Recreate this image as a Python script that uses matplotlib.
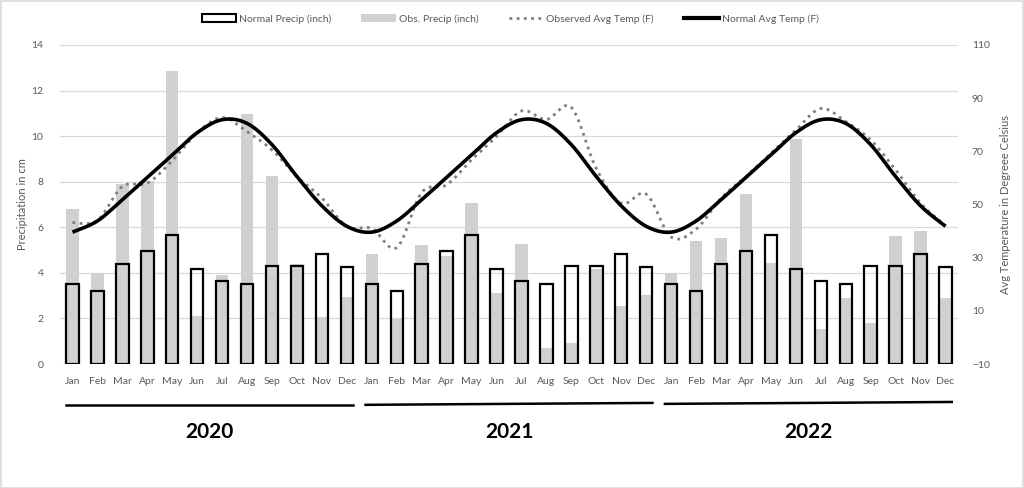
import matplotlib
matplotlib.use("Agg")
import matplotlib.pyplot as plt
import numpy as np
from matplotlib.patches import Patch, Rectangle
from matplotlib.lines import Line2D
import matplotlib.transforms as mtransforms

plt.rcParams['font.family'] = ['Lato', 'DejaVu Sans']

months = ['Jan', 'Feb', 'Mar', 'Apr', 'May', 'Jun',
          'Jul', 'Aug', 'Sep', 'Oct', 'Nov', 'Dec']
years = ['2020', '2021', '2022']

# monthly normal precip (same every year)
normal_precip = [3.52, 3.21, 4.40, 4.98, 5.66, 4.18,
                 3.64, 3.52, 4.28, 4.28, 4.82, 4.25]
obs_precip_2020 = [6.80, 3.99, 7.89, 8.01, 12.87, 2.12,
                   3.89, 10.99, 8.26, 4.38, 2.06, 2.95]
obs_precip_2021 = [4.84, 1.96, 5.23, 4.72, 7.06, 3.11,
                   5.26, 0.70, 0.92, 4.16, 2.56, 3.04]
obs_precip_2022 = [3.99, 5.42, 5.51, 7.47, 4.44, 9.86,
                   1.55, 2.91, 1.78, 5.60, 5.83, 2.88]

# monthly normal temp (same every year)
normal_temp = [39.6, 43.8, 51.8, 60.2, 68.6, 77.0,
               81.9, 80.5, 72.5, 60.5, 49.5, 41.8]
obs_temp_2020 = [43.2, 44.0, 56.8, 58.0, 66.5, 77.0,
                 82.7, 77.4, 70.5, 60.5, 52.4, 41.7]
obs_temp_2021 = [41.0, 33.8, 54.5, 57.4, 66.8, 75.6,
                 85.2, 82.0, 86.5, 63.5, 50.5, 53.9]
obs_temp_2022 = [37.8, 40.7, 52.4, 60.5, 69.3, 78.0,
                 86.1, 81.2, 74.3, 63.0, 50.5, 42.0]

obs_precip = obs_precip_2020 + obs_precip_2021 + obs_precip_2022
obs_temp = obs_temp_2020 + obs_temp_2021 + obs_temp_2022
norm_precip_all = normal_precip * 3
norm_temp_all = normal_temp * 3
labels = months * 3
x = np.arange(len(labels))


def smooth(xs, ys, n=20):
    # excel-style smoothed line (bezier through the points)
    xs = np.asarray(xs, float)
    ys = np.asarray(ys, float)
    px, py = [], []
    for i in range(len(xs) - 1):
        p0 = max(i - 1, 0)
        p3 = min(i + 2, len(xs) - 1)
        c1x = xs[i] + (xs[i + 1] - xs[p0]) / 6
        c1y = ys[i] + (ys[i + 1] - ys[p0]) / 6
        c2x = xs[i + 1] - (xs[p3] - xs[i]) / 6
        c2y = ys[i + 1] - (ys[p3] - ys[i]) / 6
        t = np.linspace(0, 1, n)
        bx = ((1 - t) ** 3 * xs[i] + 3 * (1 - t) ** 2 * t * c1x
              + 3 * (1 - t) * t ** 2 * c2x + t ** 3 * xs[i + 1])
        by = ((1 - t) ** 3 * ys[i] + 3 * (1 - t) ** 2 * t * c1y
              + 3 * (1 - t) * t ** 2 * c2y + t ** 3 * ys[i + 1])
        px.extend(bx)
        py.extend(by)
    return np.array(px), np.array(py)


txt = '#595959'
grey_bar = '#D0D0D0'

fig = plt.figure(figsize=(10.24, 4.88), dpi=100)
ax = fig.add_axes([60 / 1024, 124 / 488, 898 / 1024, 319 / 488])
ax2 = ax.twinx()

ax.bar(x, obs_precip, width=0.5, color=grey_bar, zorder=2)
ax.bar(x, norm_precip_all, width=0.5, facecolor='none',
       edgecolor='black', linewidth=1.6, zorder=3)

ax.set_xlim(-0.5, len(x) - 0.5)
ax.set_ylim(0, 14)
ax.set_yticks(np.arange(0, 15, 2))
ax.grid(axis='y', color='#D9D9D9', linewidth=0.9, zorder=0)
ax.set_axisbelow(True)
ax.set_xticks(x)
ax.set_xticklabels(labels)
ax.tick_params(axis='x', length=0, pad=9, labelsize=7.5, labelcolor=txt)
ax.tick_params(axis='y', length=0, pad=12, labelsize=7.5, labelcolor=txt)
ax.set_ylabel('Precipitation in cm', fontsize=8, color=txt)
ax.yaxis.set_label_coords(-0.036, 0.5)

sx, sy = smooth(x, obs_temp)
ax2.plot(sx, sy, color='#7F7F7F', linewidth=2.0, linestyle=(0, (1, 1.6)),
         zorder=4)
sx, sy = smooth(x, norm_temp_all)
ax2.plot(sx, sy, color='black', linewidth=2.6, zorder=5,
         solid_capstyle='butt')
ax2.set_ylim(-10, 110)
ax2.set_yticks(np.arange(-10, 111, 20))
ax2.tick_params(axis='y', length=0, pad=10, labelsize=7.5, labelcolor=txt)
ax2.set_ylabel('Avg Temperature in Degreee Celsius', fontsize=8,
               color=txt)
ax2.yaxis.set_label_coords(1.047, 0.5)

for a in (ax, ax2):
    for s in a.spines.values():
        s.set_visible(False)

# year brackets under the month labels
trans = mtransforms.blended_transform_factory(ax.transData, ax.transAxes)
tilt = [(0.0, 0.0), (0.0, 0.006), (0.003, 0.009)]
for k, yr in enumerate(years):
    x0 = k * 12 - 0.25
    x1 = k * 12 + 11.25
    ax.add_line(Line2D([x0, x1], [-0.128 + tilt[k][0], -0.128 + tilt[k][1]],
                       transform=trans, color='black', linewidth=1.8,
                       clip_on=False))
    ax.text(k * 12 + 5.5, -0.213, yr, transform=trans, ha='center',
            va='center', fontsize=15, fontweight='bold', color='black')

handles = [
    Patch(facecolor='white', edgecolor='black', linewidth=1.5),
    Patch(facecolor=grey_bar, edgecolor='none'),
    Line2D([], [], color='#7F7F7F', linewidth=2.0, linestyle=(0, (1, 1.6))),
    Line2D([], [], color='black', linewidth=3),
]
names = ['Normal Precip (inch)', 'Obs. Precip (inch)',
         'Observed Avg Temp (F)', 'Normal Avg Temp (F)']
fig.legend(handles, names, loc='center', bbox_to_anchor=(510 / 1024, 1 - 19 / 488),
           ncol=4, frameon=False, fontsize=7.5, labelcolor=txt,
           handlelength=3.3, handleheight=0.8, handletextpad=0.3,
           columnspacing=2.9)

fig.patches.append(Rectangle((0.5 / 1024, 0.5 / 488), 1022.5 / 1024, 486.5 / 488,
                             transform=fig.transFigure, fill=False,
                             edgecolor='#D9D9D9', linewidth=1.2))

fig.savefig('out.png', dpi=100)
